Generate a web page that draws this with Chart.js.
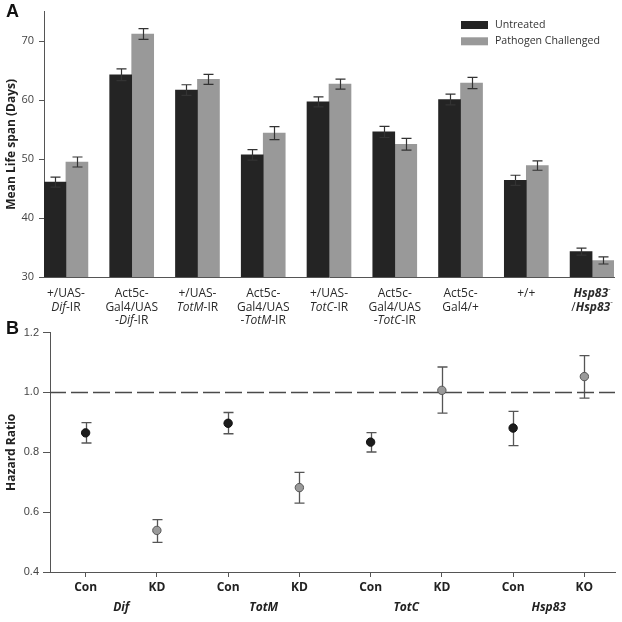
<!DOCTYPE html>
<html>
<head>
<meta charset="utf-8">
<script src="https://cdn.jsdelivr.net/npm/chart.js@4.4.0/dist/chart.umd.min.js"></script>
<style>
  html, body { margin: 0; padding: 0; background: #fff; }
  #wrap { position: relative; width: 622px; height: 622px; }
  #chart-a { position: absolute; left: 0; top: 0; }
  #chart-b { position: absolute; left: 0; top: 322px; }
  .panel-tag { position: absolute; font: bold 18px "Liberation Sans", Arial, sans-serif; color: #111; line-height: 20px; }
</style>
</head>
<body>
<div id="wrap">
  <canvas id="chart-a" width="622" height="340"></canvas>
  <canvas id="chart-b" width="622" height="300"></canvas>
  <div class="panel-tag" style="left:6px;top:1px">A</div>
  <div class="panel-tag" style="left:6px;top:318px">B</div>
</div>
<script>
(function () {
  'use strict';

  // ---- panel A: mean life span ----
  // *text* = italic, _text_ = bold, ^text^ = superscript
  var strainLabels = [
    ['+/UAS-', '*Dif*-IR'],
    ['Act5c-', 'Gal4/UAS', '-*Dif*-IR'],
    ['+/UAS-', '*TotM*-IR'],
    ['Act5c-', 'Gal4/UAS', '-*TotM*-IR'],
    ['+/UAS-', '*TotC*-IR'],
    ['Act5c-', 'Gal4/UAS', '-*TotC*-IR'],
    ['Act5c-', 'Gal4/+'],
    ['+/+'],
    ['_*Hsp83*_^-^', '/_*Hsp83*_^-^']
  ];
  var untreated = [46.1, 64.3, 61.7, 50.7, 59.7, 54.6, 60.1, 46.4, 34.3];
  var untreatedErr = [0.85, 1.0, 0.9, 0.9, 0.85, 0.95, 0.9, 0.85, 0.6];
  var challenged = [49.5, 71.2, 63.5, 54.4, 62.7, 52.5, 62.9, 48.9, 32.8];
  var challengedErr = [0.85, 0.9, 0.85, 1.1, 0.85, 1.0, 0.95, 0.8, 0.6];
  var lifeTicks = [30, 40, 50, 60, 70];

  // ---- panel B: hazard ratios ----
  var hrTickLabels = ['Con', 'KD', 'Con', 'KD', 'Con', 'KD', 'Con', 'KO'];
  var geneNames = ['Dif', 'TotM', 'TotC', 'Hsp83'];
  var hrControl = [0.865, 0.897, 0.834, 0.881];
  var hrControlLow = [0.831, 0.862, 0.801, 0.822];
  var hrControlHigh = [0.899, 0.933, 0.866, 0.937];
  var hrKnock = [0.539, 0.682, 1.007, 1.053];
  var hrKnockLow = [0.499, 0.630, 0.931, 0.981];
  var hrKnockHigh = [0.575, 0.733, 1.085, 1.123];
  var hrTicks = [0.4, 0.6, 0.8, 1.0, 1.2];
  var hrReference = 1.0;

  var FONT = '"Open Sans", sans-serif';
  Chart.defaults.font.family = FONT;
  Chart.defaults.animation = false;

  function parseRich(line) {
    var segs = [], italic = false, bold = false, sup = false, buf = '';
    function flush() {
      if (buf) segs.push({ text: buf, italic: italic, bold: bold, sup: sup });
      buf = '';
    }
    for (var i = 0; i < line.length; i++) {
      var c = line.charAt(i);
      if (c === '*') { flush(); italic = !italic; }
      else if (c === '_') { flush(); bold = !bold; }
      else if (c === '^') { flush(); sup = !sup; }
      else buf += c;
    }
    flush();
    return segs;
  }

  function segFont(s, size) {
    var sz = s.sup ? Math.round(size * 0.7) : size;
    return (s.italic ? 'italic ' : '') + (s.bold ? 'bold ' : '') + sz + 'px ' + FONT;
  }

  function drawRich(ctx, line, cx, cy, size) {
    var segs = parseRich(line);
    var total = 0;
    segs.forEach(function (s) {
      ctx.font = segFont(s, size);
      s.w = ctx.measureText(s.text).width;
      total += s.w;
    });
    var x = cx - total / 2;
    ctx.textAlign = 'left';
    ctx.textBaseline = 'middle';
    segs.forEach(function (s) {
      ctx.font = segFont(s, size);
      ctx.fillText(s.text, x, s.sup ? cy - size * 0.45 : cy);
      x += s.w;
    });
  }

  function drawErrorBars(chart, opts) {
    var ctx = chart.ctx;
    var yScale = chart.scales.y;
    ctx.save();
    ctx.strokeStyle = opts.color;
    ctx.lineWidth = opts.width;
    chart.data.datasets.forEach(function (ds, di) {
      if (!ds.errLow) return;
      var meta = chart.getDatasetMeta(di);
      meta.data.forEach(function (el, i) {
        var x = Math.round(el.x) + 0.5;
        var yLo = yScale.getPixelForValue(ds.errLow[i]);
        var yHi = yScale.getPixelForValue(ds.errHigh[i]);
        ctx.beginPath();
        ctx.moveTo(x, yLo); ctx.lineTo(x, yHi);
        ctx.moveTo(x - opts.cap, yLo); ctx.lineTo(x + opts.cap, yLo);
        ctx.moveTo(x - opts.cap, yHi); ctx.lineTo(x + opts.cap, yHi);
        ctx.stroke();
      });
    });
    ctx.restore();
  }

  var errorBarsOnTop = {
    id: 'errorBars',
    afterDatasetsDraw: function (chart, args, opts) { drawErrorBars(chart, opts); }
  };
  var errorBarsBehind = {
    id: 'errorBars',
    beforeDatasetsDraw: function (chart, args, opts) { drawErrorBars(chart, opts); }
  };

  var strainAxisLabels = {
    id: 'strainAxisLabels',
    afterDraw: function (chart, args, opts) {
      var ctx = chart.ctx;
      var xs = chart.scales.x;
      ctx.save();
      ctx.fillStyle = opts.color;
      strainLabels.forEach(function (lines, i) {
        var cx = xs.getPixelForValue(i);
        lines.forEach(function (line, k) {
          drawRich(ctx, line, cx, chart.chartArea.bottom + opts.offset + k * opts.lineGap, opts.size);
        });
      });
      ctx.restore();
    }
  };

  var boxLegend = {
    id: 'boxLegend',
    afterDraw: function (chart, args, opts) {
      var ctx = chart.ctx;
      ctx.save();
      ctx.font = opts.fontSize + 'px ' + FONT;
      ctx.textAlign = 'left';
      ctx.textBaseline = 'middle';
      chart.data.datasets.forEach(function (ds, i) {
        var y = opts.y + i * opts.rowGap;
        ctx.fillStyle = ds.backgroundColor;
        ctx.fillRect(opts.x, y, opts.boxW, opts.boxH);
        ctx.fillStyle = opts.color;
        ctx.fillText(ds.label, opts.x + opts.boxW + opts.gap, y + opts.boxH / 2);
      });
      ctx.restore();
    }
  };

  var referenceLine = {
    id: 'referenceLine',
    beforeDatasetsDraw: function (chart, args, opts) {
      var ctx = chart.ctx;
      var area = chart.chartArea;
      var y = Math.round(chart.scales.y.getPixelForValue(opts.value)) + 0.5;
      ctx.save();
      ctx.strokeStyle = opts.color;
      ctx.lineWidth = 1.3;
      ctx.setLineDash(opts.dash);
      ctx.lineDashOffset = 1;
      ctx.beginPath();
      ctx.moveTo(area.left, y);
      ctx.lineTo(area.right, y);
      ctx.stroke();
      ctx.restore();
    }
  };

  var geneGroupLabels = {
    id: 'geneGroupLabels',
    afterDraw: function (chart, args, opts) {
      var ctx = chart.ctx;
      var xs = chart.scales.x;
      ctx.save();
      ctx.fillStyle = opts.color;
      ctx.font = 'italic bold 12px ' + FONT;
      ctx.textAlign = 'center';
      ctx.textBaseline = 'middle';
      geneNames.forEach(function (g, i) {
        var cx = (xs.getPixelForValue(2 * i) + xs.getPixelForValue(2 * i + 1)) / 2;
        ctx.fillText(g, cx, chart.chartArea.bottom + opts.offset);
      });
      ctx.restore();
    }
  };

  function toPoints(vals, step, shift) {
    return vals.map(function (v, i) { return { x: i * step + shift, y: v }; });
  }

  // ---------- chart A ----------
  new Chart(document.getElementById('chart-a'), {
    type: 'bar',
    data: {
      datasets: [{
        label: 'Untreated',
        data: toPoints(untreated, 1, 0),
        backgroundColor: '#242424',
        errLow: untreated.map(function (v, i) { return v - untreatedErr[i]; }),
        errHigh: untreated.map(function (v, i) { return v + untreatedErr[i]; })
      }, {
        label: 'Pathogen Challenged',
        data: toPoints(challenged, 1, 0),
        backgroundColor: '#999999',
        errLow: challenged.map(function (v, i) { return v - challengedErr[i]; }),
        errHigh: challenged.map(function (v, i) { return v + challengedErr[i]; })
      }]
    },
    options: {
      responsive: false,
      barThickness: 22,
      layout: { padding: { top: 2, right: 8, left: 0, bottom: 0 } },
      plugins: {
        legend: { display: false },
        tooltip: { enabled: false },
        errorBars: { color: '#333', width: 1.2, cap: 5 },
        strainAxisLabels: { color: '#2a2a2a', size: 12, offset: 17, lineGap: 13.3 },
        boxLegend: { x: 461, y: 21, boxW: 27, boxH: 8, rowGap: 16.3, gap: 7, color: '#333', fontSize: 10.6 }
      },
      scales: {
        x: {
          type: 'linear',
          offset: false,
          min: -1 / 3,
          max: 8 + 1 / 3,
          afterFit: function (scale) { scale.height = 63; },
          ticks: { display: false },
          grid: { display: false },
          border: { display: true, color: '#555', width: 1 }
        },
        y: {
          min: 30,
          max: 75,
          afterFit: function (scale) { scale.width = 44; },
          afterBuildTicks: function (scale) {
            scale.ticks = lifeTicks.map(function (v) { return { value: v }; });
          },
          ticks: { color: '#444', font: { size: 11 }, padding: 5 },
          grid: { drawOnChartArea: false, drawTicks: true, tickLength: 5, color: '#555' },
          border: { display: true, color: '#555', width: 1 },
          title: {
            display: true,
            text: 'Mean Life span (Days)',
            color: '#222',
            font: { size: 12, weight: 'bold' }
          }
        }
      }
    },
    plugins: [errorBarsOnTop, strainAxisLabels, boxLegend]
  });

  // ---------- chart B ----------
  new Chart(document.getElementById('chart-b'), {
    type: 'scatter',
    data: {
      datasets: [{
        label: 'Con',
        data: toPoints(hrControl, 2, 0),
        backgroundColor: '#1c1c1c',
        borderColor: '#111',
        borderWidth: 1,
        pointRadius: 4.2,
        errLow: hrControlLow,
        errHigh: hrControlHigh
      }, {
        label: 'KD',
        data: toPoints(hrKnock, 2, 1),
        backgroundColor: '#9a9a9a',
        borderColor: '#555',
        borderWidth: 1,
        pointRadius: 4.2,
        errLow: hrKnockLow,
        errHigh: hrKnockHigh
      }]
    },
    options: {
      responsive: false,
      layout: { padding: { top: 9, right: 7, left: 0, bottom: 0 } },
      plugins: {
        legend: { display: false },
        tooltip: { enabled: false },
        errorBars: { color: '#555', width: 1.3, cap: 5 },
        referenceLine: { value: hrReference, color: '#4a4a4a', dash: [17, 5] },
        geneGroupLabels: { color: '#222', offset: 36 }
      },
      scales: {
        x: {
          type: 'linear',
          min: -0.5,
          max: 7.43,
          afterFit: function (scale) { scale.height = 50; },
          afterBuildTicks: function (scale) {
            scale.ticks = hrTickLabels.map(function (t, i) { return { value: i }; });
          },
          ticks: {
            color: '#222',
            font: { size: 12, weight: 'bold' },
            padding: 3,
            callback: function (v) { return hrTickLabels[v]; }
          },
          grid: { drawOnChartArea: false, drawTicks: true, tickLength: 5, color: '#555' },
          border: { display: true, color: '#555', width: 1 }
        },
        y: {
          min: 0.4,
          max: 1.2,
          afterFit: function (scale) { scale.width = 50; },
          afterBuildTicks: function (scale) {
            scale.ticks = hrTicks.map(function (v) { return { value: v }; });
          },
          ticks: {
            color: '#444',
            font: { size: 11, family: '"Liberation Sans", Arial, sans-serif' },
            padding: 4,
            callback: function (v) { return v.toFixed(1); }
          },
          grid: { drawOnChartArea: false, drawTicks: true, tickLength: 7, color: '#555' },
          border: { display: true, color: '#555', width: 1 },
          title: {
            display: true,
            text: 'Hazard Ratio',
            color: '#222',
            font: { size: 12, weight: 'bold' }
          }
        }
      }
    },
    plugins: [errorBarsBehind, referenceLine, geneGroupLabels]
  });
})();
</script>
</body>
</html>
